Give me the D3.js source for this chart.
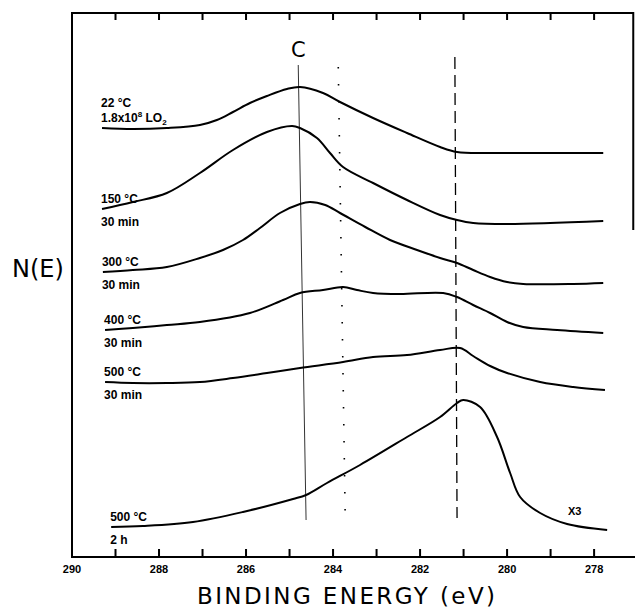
<!DOCTYPE html>
<html>
<head>
<meta charset="utf-8">
<script src="https://cdn.jsdelivr.net/npm/d3@7"></script>
<style>
  body { margin: 0; background: #fff; }
  svg { display: block; }
</style>
</head>
<body>
<div id="chart"></div>
<script>
// binding energy (eV) and N(E), arbitrary units
const e22 = [289.31, 288.60, 287.82, 287.06, 286.67, 286.30, 285.91, 285.52, 285.06, 284.76, 284.23, 283.84, 283.08, 282.30, 281.54, 281.15, 280.39, 279.24, 277.79];
const n22 = [429, 428, 429, 432, 437, 445, 454, 461, 468, 470, 464, 455, 439, 424, 410, 405, 404, 404, 404];

const e150 = [289.31, 288.60, 287.82, 287.06, 286.30, 285.52, 284.94, 284.76, 284.37, 284.07, 283.77, 283.08, 282.30, 281.54, 281.15, 280.78, 280.00, 277.79];
const n150 = [348, 355, 364, 384, 407, 425, 431, 429, 419, 404, 390, 374, 357, 342, 337, 334, 333, 336];

const e300 = [289.29, 288.60, 287.82, 287.06, 286.53, 286.07, 285.68, 285.22, 284.76, 284.53, 284.18, 283.84, 283.26, 282.69, 282.07, 281.54, 281.15, 280.78, 280.39, 280.00, 279.63, 278.48, 277.79];
const n300 = [285, 287, 290, 299, 307, 317, 329, 344, 353, 355, 352, 344, 330, 317, 307, 299, 294, 287, 280, 275, 273, 273, 274];

const e400 = [289.24, 288.60, 287.82, 287.06, 285.91, 285.15, 284.76, 284.23, 283.77, 283.45, 283.08, 282.46, 281.47, 281.15, 280.78, 280.39, 280.00, 279.63, 278.85, 277.79];
const n400 = [227, 229, 232, 235, 244, 257, 264, 267, 270, 267, 264, 263, 264, 260, 252, 244, 235, 230, 227, 224];

const e500 = [289.24, 288.60, 287.82, 287.06, 286.30, 285.52, 284.76, 283.77, 283.08, 282.30, 281.54, 281.08, 280.78, 280.39, 280.00, 279.24, 278.48, 277.75];
const n500 = [175, 174, 174, 175, 179, 184, 189, 195, 200, 202, 207, 209, 201, 191, 184, 175, 170, 167];

const e500h = [289.10, 288.37, 287.22, 286.07, 284.92, 284.62, 284.14, 283.38, 282.30, 281.54, 281.15, 281.01, 280.62, 280.23, 279.93, 279.70, 279.24, 278.62, 277.70];
const n500h = [30, 31, 35, 45, 58, 62, 74, 92, 120, 140, 154, 157, 150, 120, 84, 60, 44, 33, 27];

const seriesE = [e22, e150, e300, e400, e500, e500h];
const seriesN = [n22, n150, n300, n400, n500, n500h];
const labelTop = ["22 °C", "150 °C", "300 °C", "400 °C", "500 °C", "500 °C"];
const labelBottom = ["1.8x10|8| LO|2", "30 min", "30 min", "30 min", "30 min", "2 h"];

// reference lines: [eV at top, eV at bottom, N at top, N at bottom]
const lineC = [284.80, 284.62, 492, 37];
const lineDot = [283.88, 283.72, 490, 39];
const lineDash = [281.20, 281.15, 500, 39];

const tickValues = d3.range(278, 290);
const tickLabels = [290, 288, 286, 284, 282, 280, 278];

const width = 636, height = 610;
const svg = d3.select('#chart').append('svg')
  .attr('width', width)
  .attr('height', height);

const x = d3.scaleLinear().domain([290, 277.06]).range([72, 635]);
const y = d3.scaleLinear().domain([0, 544]).range([557, 13]);

const labelFont = '"Liberation Sans", Arial, sans-serif';
const titleFont = '"DejaVu Sans", sans-serif';

// frame: left, top, the stub on the right, and the bottom axis line
svg.append('path')
  .attr('d', `M${x(290)},${y(0)}V${y(544)}H${x(277.1)}V${y(327)}`)
  .attr('fill', 'none')
  .attr('stroke', '#000')
  .attr('stroke-width', 2);

svg.append('path')
  .attr('d', `M${x(290) - 1},${y(0)}H${x(277.06)}`)
  .attr('stroke', '#000')
  .attr('stroke-width', 2);

// ticks pointing inward, bottom and top
const bottomTicks = tickValues.map(d => `M${x(d)},${y(0)}v-8`).join('');
const topTicks = tickValues.map(d => `M${x(d)},${y(544)}v7`).join('');
svg.append('path')
  .attr('d', bottomTicks + topTicks)
  .attr('fill', 'none')
  .attr('stroke', '#000')
  .attr('stroke-width', 2);

svg.append('g').selectAll('text')
  .data(tickLabels)
  .join('text')
  .attr('x', d => x(d))
  .attr('y', y(0) + 16)
  .attr('text-anchor', 'middle')
  .style('font-family', labelFont)
  .style('font-size', '11px')
  .style('font-weight', 'bold')
  .text(d => d);

// reference lines
function refLine(v, dash, w, color) {
  svg.append('line')
    .attr('x1', x(v[0])).attr('y1', y(v[2]))
    .attr('x2', x(v[1])).attr('y2', y(v[3]))
    .attr('stroke', color)
    .attr('stroke-width', w)
    .attr('stroke-dasharray', dash);
}
refLine(lineC, null, 1, '#333');
refLine(lineDot, '1.5,15.5', 1.6, '#000');
refLine(lineDash, '12,6', 1.3, '#000');

svg.append('text')
  .attr('x', x(lineC[0]))
  .attr('y', y(lineC[2]) - 8)
  .attr('text-anchor', 'middle')
  .style('font-family', titleFont)
  .style('font-size', '21px')
  .text('C');

// spectra
const line = d3.line()
  .x(d => x(d[0]))
  .y(d => y(d[1]))
  .curve(d3.curveCatmullRom.alpha(0.5));

seriesE.forEach((es, i) => {
  const pts = es.map((e, j) => [e, seriesN[i][j]]);
  svg.append('path')
    .datum(pts)
    .attr('fill', 'none')
    .attr('stroke', '#000')
    .attr('stroke-width', 2)
    .attr('d', line);

  const lx = x(es[0]) - 1;
  const y0 = y(seriesN[i][0]);
  const topY = i === 0 ? y0 - 21 : y0 - 6;
  const botY = i === 0 ? y0 - 6 : y0 + 17;

  svg.append('text')
    .attr('x', lx).attr('y', topY)
    .style('font-family', labelFont)
    .style('font-size', '12px')
    .style('font-weight', 'bold')
    .text(labelTop[i]);

  // "|" splits normal / superscript / subscript pieces
  const t = svg.append('text')
    .attr('x', lx).attr('y', botY)
    .style('font-family', labelFont)
    .style('font-size', '12px')
    .style('font-weight', 'bold');
  const parts = labelBottom[i].split('|');
  parts.forEach((p, k) => {
    const ts = t.append('tspan').text(p);
    if (parts.length > 1) {
      if (k === 1) ts.attr('dy', -5).style('font-size', '8px');
      if (k === 2) ts.attr('dy', 5);
      if (k === 3) ts.attr('dy', 3).style('font-size', '8px');
    }
  });
});

svg.append('text')
  .attr('x', x(278.6))
  .attr('y', y(42))
  .style('font-family', labelFont)
  .style('font-size', '11px')
  .style('font-weight', 'bold')
  .text('X3');

// axis titles
svg.append('text')
  .attr('x', 12)
  .attr('y', 277)
  .style('font-family', titleFont)
  .style('font-size', '24px')
  .text('N(E)');

svg.append('text')
  .attr('x', 197)
  .attr('y', 604)
  .attr('textLength', 298)
  .attr('lengthAdjust', 'spacing')
  .style('font-family', titleFont)
  .style('font-size', '23px')
  .text('BINDING ENERGY (eV)');
</script>
</body>
</html>
